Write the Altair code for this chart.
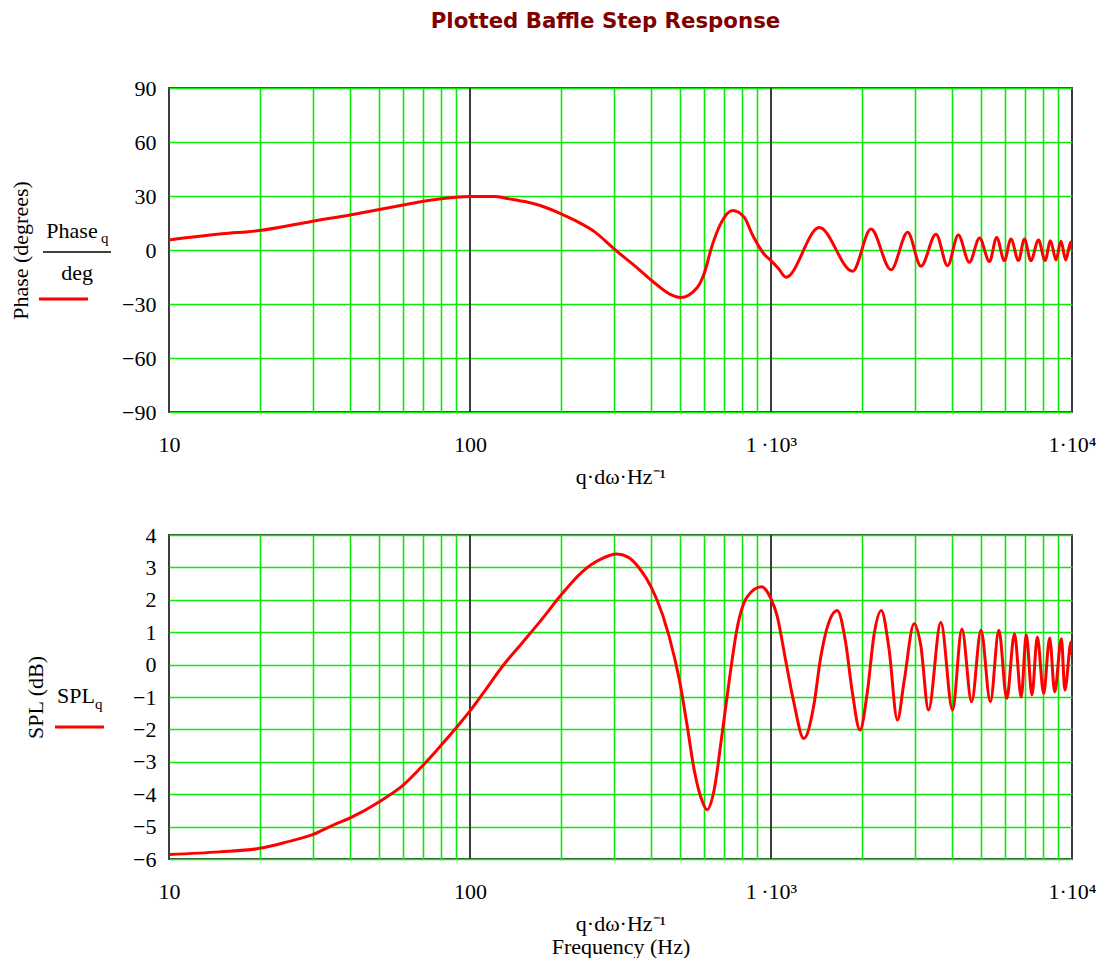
import altair as alt
import pandas as pd

# ---------------- data ----------------
phase_freq = [10, 15, 20, 30, 40, 50, 60, 70, 83, 100, 120, 135, 152, 171, 199, 224,
              261, 301, 352, 403, 461, 501, 569, 604, 632, 680, 745, 815, 865, 948,
              1000, 1062, 1121, 1447, 1867, 2148, 2505, 2845, 3150, 3533, 3860, 4190,
              4560, 4930, 5320, 5620, 5960, 6270, 6640, 6950, 7300, 7740, 8140, 8480,
              8850, 9190, 9530, 9900, 10000]
phase_deg = [5.6, 9.0, 10.8, 16.0, 19.5, 22.5, 25.0, 27.1, 28.8, 29.7, 29.7, 28.4,
             26.9, 24.7, 20.4, 16.3, 9.8, 0.6, -8.7, -17.2, -24.5, -26.4, -20.8, -11.5,
             0.4, 14.5, 21.9, 18.2, 8.9, -2.2, -5.9, -10.6, -15.1, 12.5, -11.8, 11.6,
             -11.0, 9.8, -9.0, 8.8, -8.7, 8.3, -6.8, 6.6, -6.4, 7.0, -5.9, 6.1, -5.9,
             6.1, -5.9, 5.5, -5.9, 5.2, -5.5, 5.0, -5.5, 4.5, 0.0]

spl_freq = [10, 14.7, 20, 24.5, 30, 35, 40, 50, 60, 70, 80, 90, 100, 111, 129, 150,
            174, 200, 235, 273, 307, 336, 367, 400, 437, 479, 500, 526, 557, 591, 613,
            646, 685, 728, 771, 832, 930, 1000, 1047, 1116, 1190, 1285, 1388, 1460,
            1557, 1660, 1769, 1862, 1975, 2090, 2198, 2325, 2466, 2630, 2767, 2988,
            3145, 3336, 3666, 4010, 4306, 4640, 4985, 5355, 5715, 6070, 6440, 6780,
            7050, 7360, 7670, 8050, 8430, 8760, 9220, 9470, 9930, 10000]
spl_db = [-5.86, -5.78, -5.67, -5.48, -5.25, -4.96, -4.73, -4.23, -3.72, -3.10, -2.50,
          -1.95, -1.43, -0.86, -0.02, 0.70, 1.42, 2.13, 2.85, 3.26, 3.41, 3.31, 2.95,
          2.39, 1.52, 0.18, -0.64, -1.86, -3.30, -4.22, -4.48, -3.91, -2.27, -0.43,
          1.10, 2.08, 2.40, 2.03, 1.52, 0.18, -1.15, -2.28, -1.25, 0.18, 1.31, 1.67,
          0.70, -0.84, -2.02, -0.84, 0.90, 1.67, 0.49, -1.71, -0.53, 1.26, 0.59, -1.40,
          1.31, -1.40, 1.10, -1.15, 1.06, -1.15, 1.06, -1.05, 0.95, -1.00, 0.92, -0.94,
          0.85, -0.89, 0.82, -0.84, 0.80, -0.79, 0.70, 0.30]

x_grid_values = [10, 20, 30, 40, 50, 60, 70, 80, 90,
                 100, 200, 300, 400, 500, 600, 700, 800, 900,
                 1000, 2000, 3000, 4000, 5000, 6000, 7000, 8000, 9000, 10000]
decade_lines = [100, 1000]
phase_ticks = [-90, -60, -30, 0, 30, 60, 90]
spl_ticks = [-6, -5, -4, -3, -2, -1, 0, 1, 2, 3, 4]

# ---------------- styling ----------------
SERIF = "Liberation Serif"
GREEN = "#0aea0a"
DARK = "#3c3c3c"
RED = "#ff0000"
FS = 22
W, H = 903, 324

label_expr = ("datum.value == 10 ? '10' : datum.value == 100 ? '100' : "
              "datum.value == 1000 ? '1\u2009·10³' : datum.value == 10000 ? '1·10⁴' : ''")
grid_opacity = {"condition": {"test": "datum.value == 10 || datum.value == 100 || "
                                      "datum.value == 1000 || datum.value == 10000",
                              "value": 0},
                "value": 1}

x_scale = alt.Scale(type="log", domain=[10, 10000], nice=False)


def x_axis(title):
    return alt.Axis(values=x_grid_values, labelExpr=label_expr, grid=True,
                    gridColor=GREEN, gridWidth=1.6, gridOpacity=grid_opacity,
                    ticks=False, tickSize=0, domain=False,
                    labelFont=SERIF, labelFontSize=FS, labelColor="black",
                    labelPadding=22, labelFlush=False, labelOverlap=False,
                    title=title, titleFont=SERIF, titleFontSize=FS,
                    titleFontWeight="normal", titleColor="black", titlePadding=11,
                    titleLineHeight=23)


def y_axis(values, title, title_x):
    return alt.Axis(values=values, grid=True, gridColor=GREEN, gridWidth=1.6,
                    ticks=False, tickSize=0, domain=False,
                    labelFont=SERIF, labelFontSize=FS, labelColor="black",
                    labelPadding=13, labelFlush=False, labelOverlap=False,
                    title=title, titleFont=SERIF, titleFontSize=FS,
                    titleFontWeight="normal", titleColor="black",
                    titleX=title_x, titleY=H / 2, titleBaseline="middle",
                    titleAlign="center")


one = pd.DataFrame({"k": [0]})


def text_mark(txt, x, y, size=FS, align="center"):
    return alt.Chart(one).mark_text(text=txt, font=SERIF, fontSize=size, color="black",
                                    align=align, baseline="alphabetic").encode(
        x=alt.value(x), y=alt.value(y))


def seg(x1, x2, y, color, w):
    return alt.Chart(one).mark_rule(color=color, strokeWidth=w).encode(
        x=alt.value(x1), x2=alt.value(x2), y=alt.value(y))


# ---------------- top panel: phase ----------------
df_phase = pd.DataFrame({"freq": phase_freq, "value": phase_deg})
df_dec = pd.DataFrame({"freq": decade_lines})

phase_scale = alt.Scale(domain=[-90, 90], nice=False)

top_line = alt.Chart(df_phase).mark_line(color=RED, strokeWidth=3, interpolate="monotone",
                                         clip=True).encode(
    x=alt.X("freq:Q", scale=x_scale, axis=x_axis("q·dω·Hz⁻¹")),
    y=alt.Y("value:Q", scale=phase_scale,
            axis=y_axis(phase_ticks, "Phase (degrees)", -149)))
top_dec = alt.Chart(df_dec).mark_rule(color=DARK, strokeWidth=2).encode(
    x=alt.X("freq:Q", scale=x_scale))

top = alt.layer(
    top_dec, top_line,
    text_mark("Phase", -97, 150),
    text_mark("q", -68, 155, size=15, align="left"),
    seg(-126, -58, 164, "black", 1.5),
    text_mark("deg", -92, 192),
    seg(-130, -81, 211, RED, 3),
).properties(width=W, height=H)

# ---------------- bottom panel: SPL ----------------
df_spl = pd.DataFrame({"freq": spl_freq, "value": spl_db})
spl_scale = alt.Scale(domain=[-6, 4], nice=False)

bot_line = alt.Chart(df_spl).mark_line(color=RED, strokeWidth=3, interpolate="monotone",
                                       clip=True).encode(
    x=alt.X("freq:Q", scale=x_scale, axis=x_axis(["q·dω·Hz⁻¹", "Frequency (Hz)"])),
    y=alt.Y("value:Q", scale=spl_scale,
            axis=y_axis(spl_ticks, "SPL (dB)", -134)))
bot_dec = alt.Chart(df_dec).mark_rule(color=DARK, strokeWidth=2).encode(
    x=alt.X("freq:Q", scale=x_scale))

bottom = alt.layer(
    bot_dec, bot_line,
    text_mark("SPL", -112, 168, align="left"),
    text_mark("q", -74, 174, size=15, align="left"),
    seg(-114, -65, 192, RED, 3),
).properties(width=W, height=H)

chart = alt.vconcat(top, bottom, spacing=35).properties(
    title=alt.TitleParams("Plotted Baffle Step Response", font="DejaVu Sans",
                          fontSize=21.3, fontWeight="bold", color="#800000",
                          anchor="middle", offset=44, dx=53),
    padding={"left": 0, "top": 2, "right": -1, "bottom": 0},
).configure_view(stroke=DARK, strokeWidth=2)

chart.save("out.html", embed_options={"renderer": "svg", "actions": False})
